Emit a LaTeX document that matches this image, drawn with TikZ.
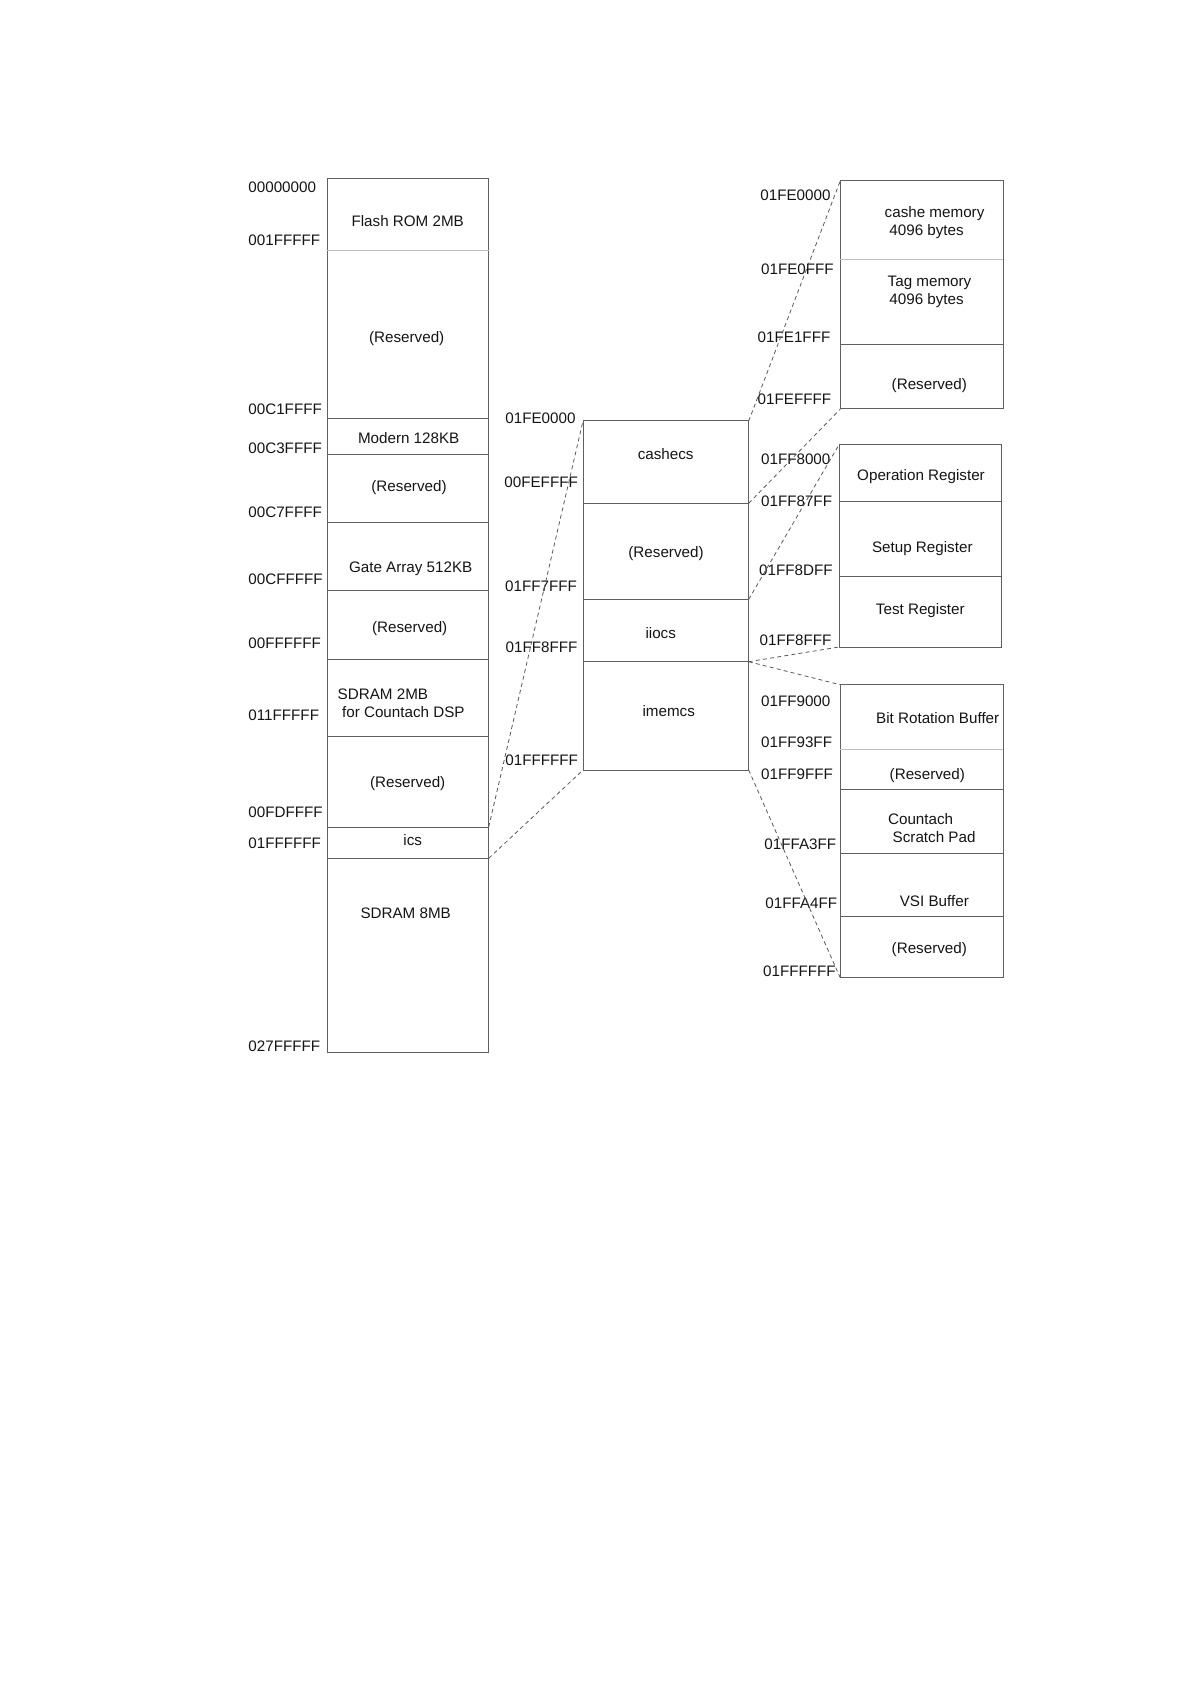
\documentclass[tikz,border=0pt]{standalone}
\usepackage{fontspec}
\setmainfont{Liberation Sans}

\tikzset{
  membox/.style={draw=gray!75!black, line width=0.5pt},
  faint/.style={draw=gray!50, line width=0.5pt},
  zoomline/.style={draw=gray!70!black, line width=0.4pt, dash pattern=on 2pt off 1.6pt},
  addr/.style={anchor=west, inner sep=0pt, text height=5.44pt, text depth=0pt},
  lbl/.style={inner sep=0pt, text height=5.44pt, text depth=0pt},
  lbll/.style={lbl, anchor=west},
}

\begin{document}
\begin{tikzpicture}[x=0.5pt,y=-0.5pt, font=\fontsize{7.6}{9}\selectfont, text=black!92]
\useasboundingbox (0,0) rectangle (1190,1684);

% MAIN MAP
\draw[membox] (327.3,179) rectangle (488.7,1052.3);
\draw[faint] (327.3,250.3) -- (488.7,250.3);
\foreach \y in {419,454.3,522.3,590.3,659.7,736,827,858.3}
  \draw[membox] (327.3,\y) -- (488.7,\y);
\coordinate (icsTop) at (488.7,827);
\coordinate (icsBot) at (488.7,858.3);

\node[lbl] (flash)   at (407.7,221)   {Flash ROM 2MB};
\node[lbl] (resA)    at (406.7,337.3) {(Reserved)};
\node[lbl] (modem)   at (408.7,438.3) {Modern 128KB};
\node[lbl] (resB)    at (409,486)     {(Reserved)};
\node[lbl] (gate)    at (410.7,566.7) {Gate Array 512KB};
\node[lbl] (resC)    at (409.7,626.7) {(Reserved)};
\node[lbll] (sdramA) at (337.3,694.3) {SDRAM 2MB};
\node[lbll] (sdramB) at (341.7,712.3) {for Countach DSP};
\node[lbl] (resD)    at (407.7,782)   {(Reserved)};
\node[lbl] (ics)     at (412.7,840)   {ics};
\node[lbl] (sdram)   at (405.7,913.3) {SDRAM 8MB};

\node[addr] (a0)  at (248,186.7)  {00000000};
\node[addr] (a1)  at (248,240)    {001FFFFF};
\node[addr] (a2)  at (248,409)    {00C1FFFF};
\node[addr] (a3)  at (248,448.3)  {00C3FFFF};
\node[addr] (a4)  at (248,512.3)  {00C7FFFF};
\node[addr] (a5)  at (248,579)    {00CFFFFF};
\node[addr] (a6)  at (248,643.3)  {00FFFFFF};
\node[addr] (a7)  at (248,715)    {011FFFFF};
\node[addr] (a8)  at (248,811.7)  {00FDFFFF};
\node[addr] (a9)  at (248,843.3)  {01FFFFFF};
\node[addr] (a10) at (248,1045.7) {027FFFFF};

% ICS MAP
\draw[membox] (583,421) rectangle (748.7,770);
\foreach \y in {503.3,599.3,661.7}
  \draw[membox] (583,\y) -- (748.7,\y);
\coordinate (midTL) at (583,421);
\coordinate (midBL) at (583,770);
\coordinate (midTR) at (748.7,421);
\coordinate (cashecsBR) at (748.7,503.3);
\coordinate (resBR) at (748.7,599.3);
\coordinate (iiocsBR) at (748.7,661.7);
\coordinate (midBR) at (748.7,770);

\node[lbl] (cashecs) at (665.7,454)   {cashecs};
\node[lbl] (resE)    at (666,551.7)   {(Reserved)};
\node[lbl] (iiocs)   at (660.7,633.3) {iiocs};
\node[lbl] (imemcs)  at (668.7,711)   {imemcs};

\node[addr] (b0) at (505,418.3) {01FE0000};
\node[addr] (b1) at (504,481.7) {00FEFFFF};
\node[addr] (b2) at (504.7,586) {01FF7FFF};
\node[addr] (b3) at (505.3,647.3) {01FF8FFF};
\node[addr] (b4) at (505,760)   {01FFFFFF};

% CASHE MAP
\draw[membox] (840.3,180.7) rectangle (1003.3,409);
\draw[faint] (840.3,259.3) -- (1003.3,259.3);
\draw[membox] (840.3,345) -- (1003.3,345);
\coordinate (cacheTL) at (840.3,180.7);
\coordinate (cacheBL) at (840.3,409);

\node[lbll] (cacheA) at (884.3,211.7) {cashe memory};
\node[lbll] (cacheB) at (889,230)     {4096 bytes};
\node[lbll] (tagA)   at (887.3,281)   {Tag memory};
\node[lbll] (tagB)   at (889,298.7)   {4096 bytes};
\node[lbl]  (resF)   at (929.3,384.3) {(Reserved)};

\node[addr] (c0) at (760,195)     {01FE0000};
\node[addr] (c1) at (760.7,269.3) {01FE0FFF};
\node[addr] (c2) at (757.3,336.7) {01FE1FFF};
\node[addr] (c3) at (757.3,399)   {01FEFFFF};

% REGISTER MAP
\draw[membox] (839,444.7) rectangle (1001.7,647);
\foreach \y in {501.3,576}
  \draw[membox] (839,\y) -- (1001.7,\y);
\coordinate (regTL) at (839,444.7);
\coordinate (regBL) at (839,647);

\node[lbl] (oper)  at (921,475)     {Operation Register};
\node[lbl] (setup) at (922.3,546.7) {Setup Register};
\node[lbl] (test)  at (920.3,609)   {Test Register};

\node[addr] (d0) at (760.7,459.3) {01FF8000};
\node[addr] (d1) at (760.7,500.7) {01FF87FF};
\node[addr] (d2) at (758.7,570)   {01FF8DFF};
\node[addr] (d3) at (759.3,640)   {01FF8FFF};

% BUFFER MAP
\draw[membox] (840,684.7) rectangle (1003.3,977.3);
\draw[faint] (840,749.3) -- (1003.3,749.3);
\foreach \y in {789.3,853.3,916.7}
  \draw[membox] (840,\y) -- (1003.3,\y);
\coordinate (bufTL) at (840,684.7);
\coordinate (bufBL) at (840,977.3);

\node[lbl]  (bitrot)  at (937.7,718.3) {Bit Rotation Buffer};
\node[lbl]  (resG)    at (927.3,774)   {(Reserved)};
\node[lbll] (scratchA) at (887.7,819)  {Countach};
\node[lbll] (scratchB) at (892.3,837.3) {Scratch Pad};
\node[lbl]  (vsi)     at (934.3,901.5) {VSI Buffer};
\node[lbl]  (resH)    at (929.3,948.3) {(Reserved)};

\node[addr] (e0) at (760.7,701)   {01FF9000};
\node[addr] (e1) at (760.7,741.7) {01FF93FF};
\node[addr] (e2) at (760.7,774.3) {01FF9FFF};
\node[addr] (e3) at (764,844)     {01FFA3FF};
\node[addr] (e4) at (765,903.3)   {01FFA4FF};
\node[addr] (e5) at (762.7,971)   {01FFFFFF};

% ZOOM LINES
\draw[zoomline] (icsTop) -- (midTL);
\draw[zoomline] (icsBot) -- (midBL);
\draw[zoomline] (midTR) -- (cacheTL);
\draw[zoomline] (cashecsBR) -- (cacheBL);
\draw[zoomline] (resBR) -- (regTL);
\draw[zoomline] (iiocsBR) -- (regBL);
\draw[zoomline] (iiocsBR) -- (bufTL);
\draw[zoomline] (midBR) -- (bufBL);

\end{tikzpicture}
\end{document}
